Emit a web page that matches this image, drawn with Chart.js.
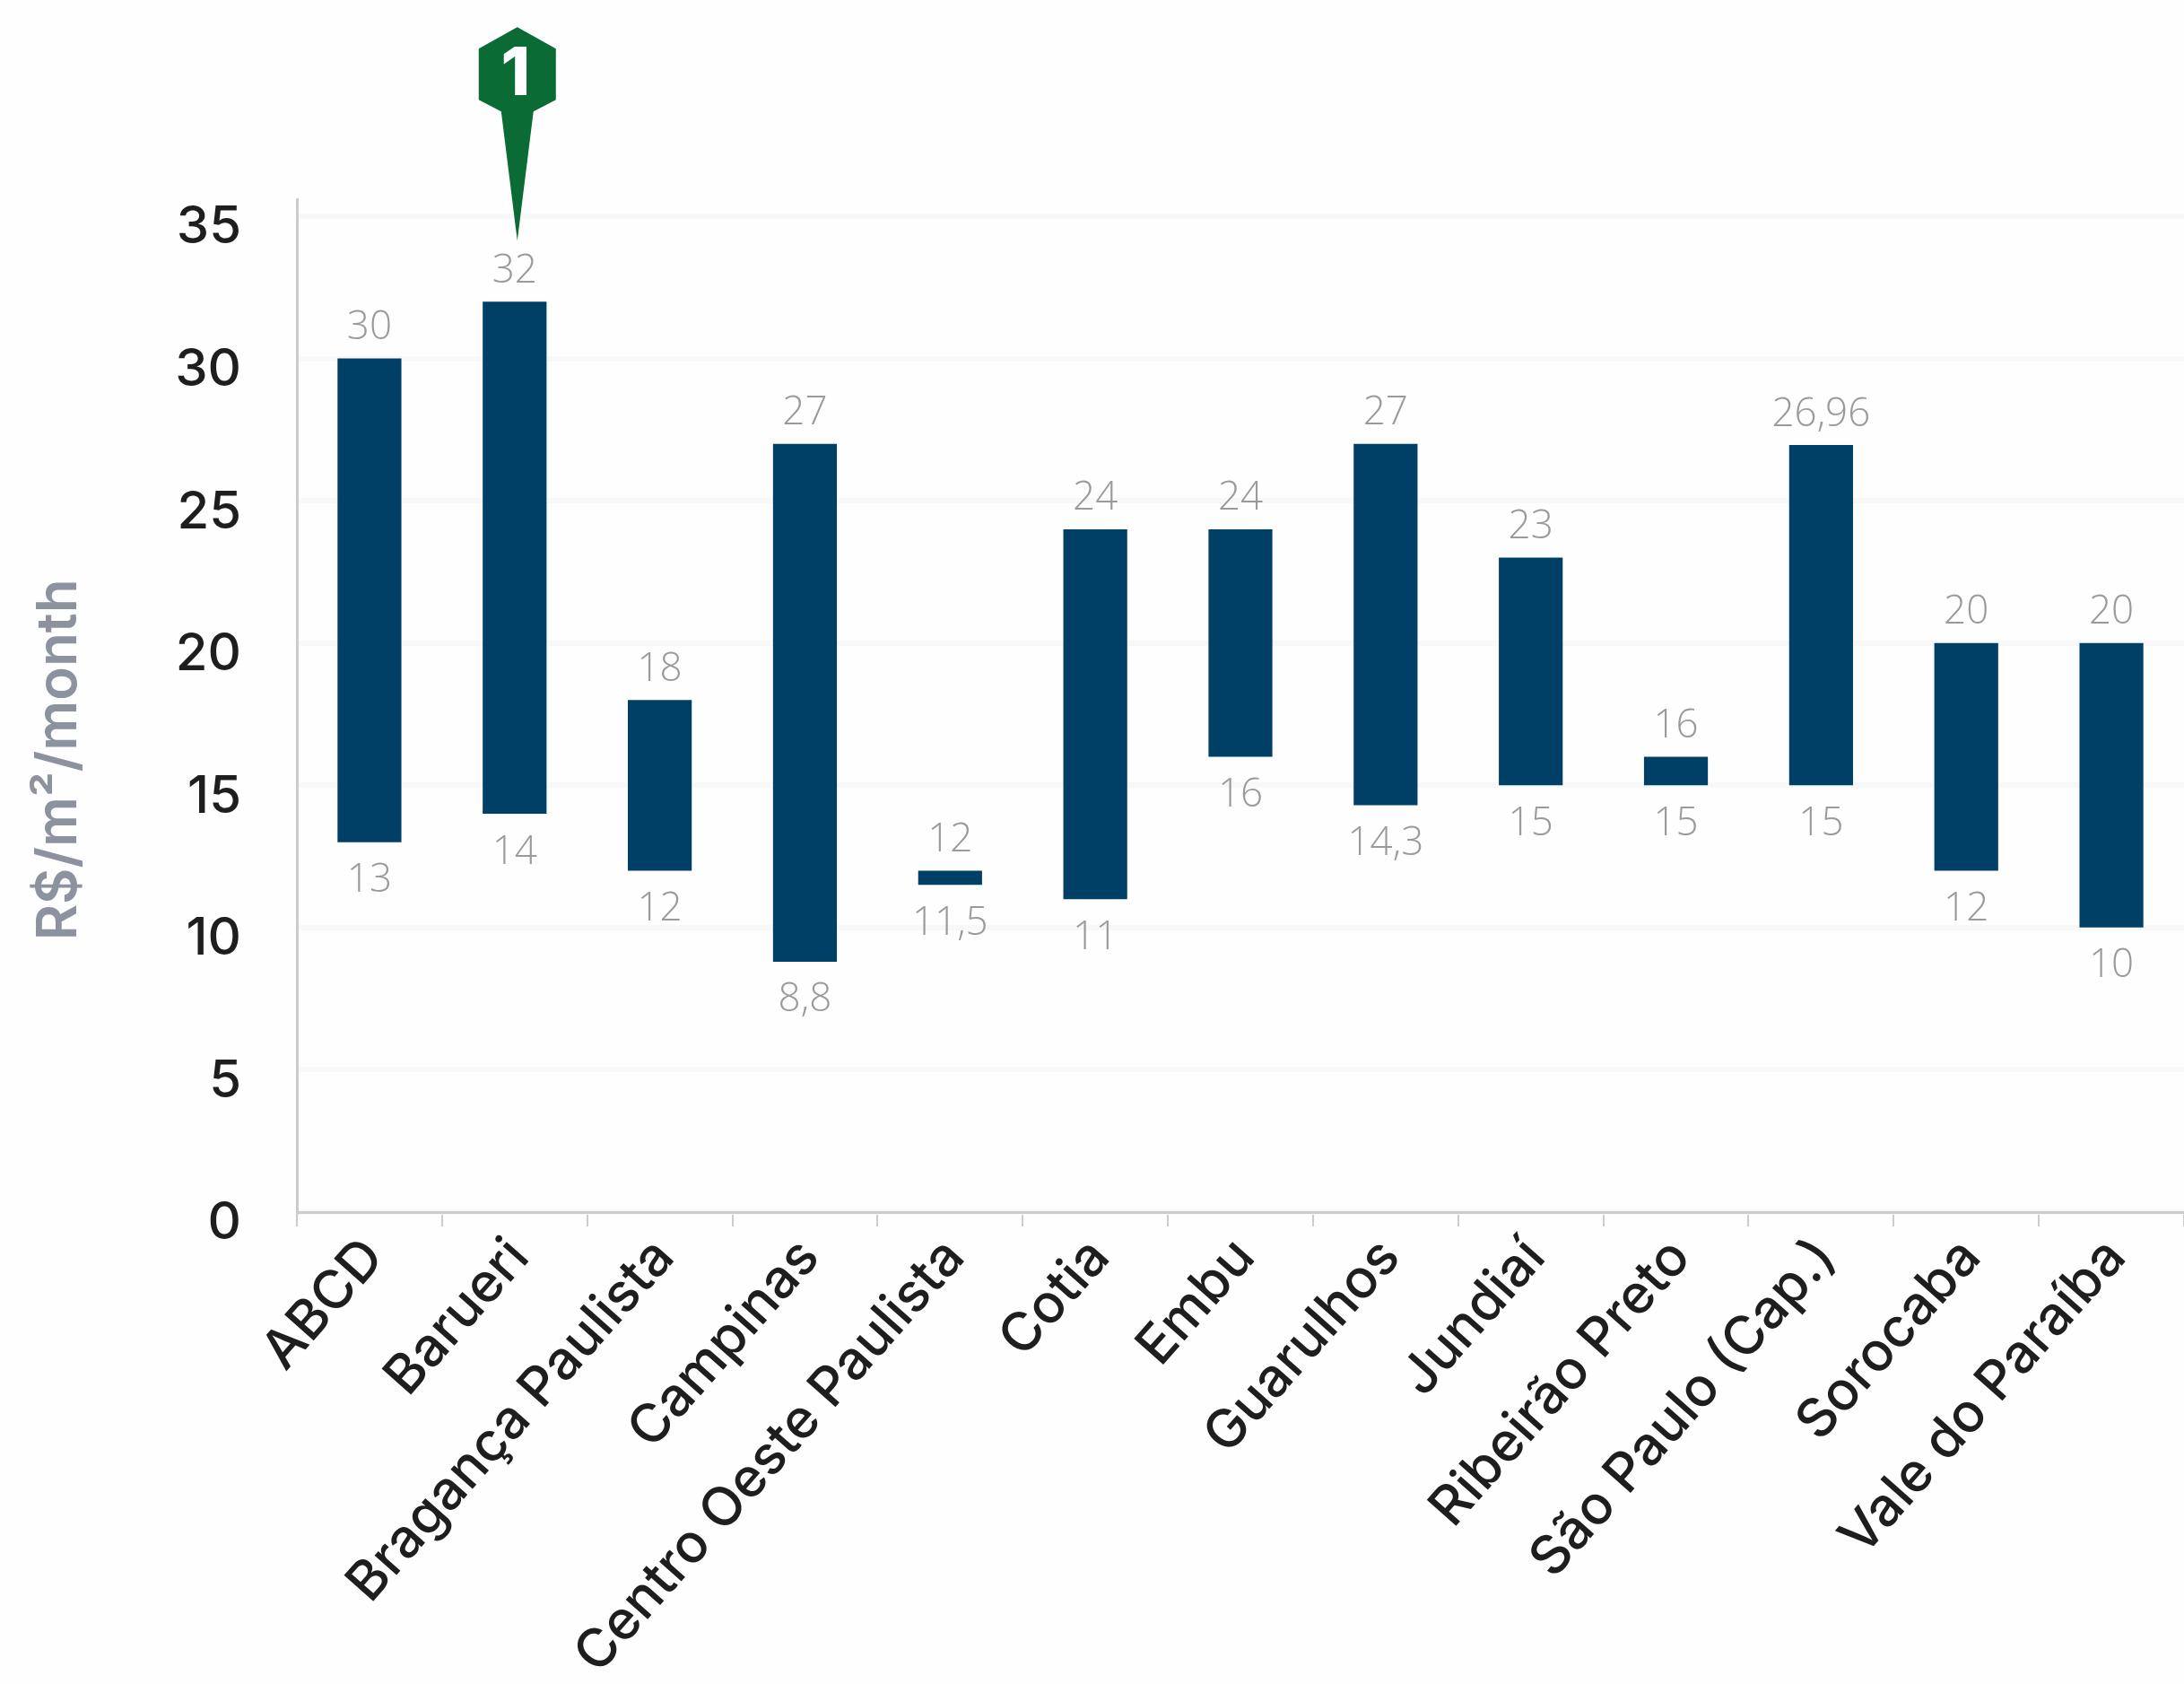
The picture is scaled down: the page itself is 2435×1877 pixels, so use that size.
<!DOCTYPE html>
<html>
<head>
  <title>Asking rents by region</title>
  <script src="https://cdn.jsdelivr.net/npm/chart.js"></script>
  <style>
    body { margin: 0; background: #fefefe; }
    .chart-container { width: 2435px; height: 1877px; overflow: hidden; }
  </style>
</head>
<body>
  <div class="chart-container">
    <canvas id="rentChart" width="2435" height="1877"></canvas>
  </div>

  <script>
    const regions = ['ABCD', 'Barueri', 'Bragança Paulista', 'Campinas', 'Centro Oeste Paulista', 'Cotia', 'Embu',
      'Guarulhos', 'Jundiaí', 'Ribeirão Preto', 'São Paulo (Cap.)', 'Sorocaba', 'Vale do Paraíba'];
    const rentLow = [13, 14, 12, 8.8, 11.5, 11, 16, 14.3, 15, 15, 15, 12, 10];
    const rentHigh = [30, 32, 18, 27, 12, 24, 24, 27, 23, 16, 26.96, 20, 20];
    const axisTitle = 'R$/m²/month';
    const markerRegion = 'Barueri';
    const markerText = '1';

    const barColor = '#003f66';
    const markerColor = '#0a6b35';

    // Min and max written above and below each bar, decimal comma
    const rangeLabels = {
      id: 'rangeLabels',
      afterDatasetsDraw(chart) {
        const { ctx, scales: { x, y } } = chart;
        ctx.save();
        ctx.font = '300 44px "Open Sans"';
        ctx.fillStyle = '#9a9a9a';
        ctx.textAlign = 'center';
        ctx.textBaseline = 'middle';
        regions.forEach((name, i) => {
          ctx.fillText(String(rentHigh[i]).replace('.', ','), x.getPixelForValue(i), y.getPixelForValue(rentHigh[i]) - 34);
          ctx.fillText(String(rentLow[i]).replace('.', ','), x.getPixelForValue(i), y.getPixelForValue(rentLow[i]) + 43);
        });
        ctx.restore();
      }
    };

    // Green pin pointing at the highest rent
    const pinMarker = {
      id: 'pinMarker',
      afterDatasetsDraw(chart) {
        const { ctx, scales: { x, y } } = chart;
        const i = regions.indexOf(markerRegion);
        const cx = x.getPixelForValue(i) + 3;
        const tip = y.getPixelForValue(rentHigh[i]) - 68;
        ctx.save();
        ctx.fillStyle = markerColor;
        ctx.beginPath();
        ctx.moveTo(cx, tip);
        ctx.lineTo(cx + 18, tip - 144);
        ctx.lineTo(cx + 43, tip - 157);
        ctx.lineTo(cx + 43, tip - 214);
        ctx.lineTo(cx, tip - 238);
        ctx.lineTo(cx - 43, tip - 214);
        ctx.lineTo(cx - 43, tip - 157);
        ctx.lineTo(cx - 18, tip - 144);
        ctx.closePath();
        ctx.fill();
        ctx.fillStyle = '#ffffff';
        ctx.font = '800 74px Inter';
        ctx.textAlign = 'center';
        ctx.textBaseline = 'middle';
        ctx.fillText(markerText, cx - 2, tip - 184);
        ctx.restore();
      }
    };

    // Value axis title sits lower than the axis centre, so it is placed by hand
    const sideTitle = {
      id: 'sideTitle',
      afterDraw(chart) {
        const { ctx, scales: { y } } = chart;
        ctx.save();
        ctx.translate(66, y.getPixelForValue(15.9));
        ctx.rotate(-Math.PI / 2);
        ctx.font = '600 62px Inter';
        ctx.fillStyle = '#8d939e';
        ctx.textAlign = 'center';
        ctx.textBaseline = 'middle';
        ctx.fillText(axisTitle, 0, 0);
        ctx.restore();
      }
    };

    new Chart(document.getElementById('rentChart').getContext('2d'), {
      type: 'bar',
      data: {
        labels: regions,
        datasets: [{
          data: rentLow.map((low, i) => [low, rentHigh[i]]),
          backgroundColor: barColor,
          barPercentage: 0.44,
          categoryPercentage: 1
        }]
      },
      options: {
        responsive: false,
        animation: false,
        layout: { padding: { top: 222, right: 0, left: 0, bottom: 0 } },
        plugins: { legend: { display: false }, tooltip: { enabled: false } },
        scales: {
          x: {
            grid: { drawOnChartArea: false, color: '#cccccc', lineWidth: 2, tickLength: 16 },
            border: { color: '#cccccc', width: 3 },
            ticks: {
              autoSkip: false,
              minRotation: 48.5,
              maxRotation: 48.5,
              padding: 0,
              labelOffset: 5,
              color: '#1e1e1e',
              font: { family: 'Inter', size: 60, weight: 500 }
            },
            afterFit(scale) { scale.height = 526; }
          },
          y: {
            min: 0,
            max: 35.6,
            grid: { color: '#f8f8f8', lineWidth: 6, drawTicks: false },
            border: { color: '#cccccc', width: 3 },
            ticks: {
              stepSize: 5,
              includeBounds: false,
              padding: 62,
              labelOffset: 13,
              color: '#1e1e1e',
              font: { family: 'Inter', size: 58, weight: 500 }
            },
            afterFit(scale) { scale.width = 331; }
          }
        }
      },
      plugins: [rangeLabels, pinMarker, sideTitle]
    });
  </script>
</body>
</html>
